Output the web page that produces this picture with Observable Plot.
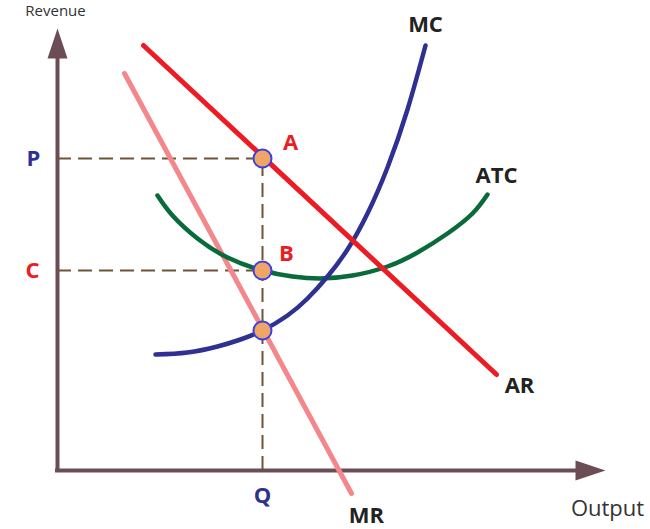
<!DOCTYPE html>
<html>
<head>
<meta charset="utf-8">
<script src="https://cdn.jsdelivr.net/npm/d3@7"></script>
<script src="https://cdn.jsdelivr.net/npm/@observablehq/plot@0.6"></script>
<style>
  body { margin: 0; background: white; }
  #chart svg { overflow: hidden; display: block; }
</style>
</head>
<body>
<div id="chart"></div>
<script>
// Values (output on x, revenue/cost on y; origin at the axes' corner)
const qOutput = 205;      // Q
const pPrice = 312;       // P
const cCost = 200;        // C
const mcAtQ = 140;        // MC = MR at Q

const arLine = [[86, 425], [439, 96]];
const mrLine = [[67, 397], [294, -23]];
const mcCurve = [[98,116],[130,118],[160,124],[183,131],[205,140],[230,155],[250,172],[270,194],[290,221],[310,257],[330,303],[350,361],[368,425]];
const atcCurve = [[100,275],[115,255],[140,232],[170,213],[205,200],[235,194],[263,192],[295,195],[330,204],[360,218],[390,237],[415,257],[430,276]];

const axisYTop = 442;     // arrow tip of the revenue axis
const axisXEnd = 548;     // arrow tip of the output axis

const labelText = ["P", "C", "Q", "A", "B", "MC", "ATC", "AR", "MR"];
const labelX = [-24, -25, 205, 233, 229, 368, 439, 462, 309];
const labelY = [312, 200, -25, 328, 217, 446, 295, 85, -45];
const labelColor = ["#2e3192", "#ed1c24", "#2e3192", "#ed1c24", "#ed1c24", "#222", "#222", "#222", "#222"];

const toPts = a => a.map(([x, y]) => ({x, y}));
const labels = labelText.map((t, i) => ({t, x: labelX[i], y: labelY[i], c: labelColor[i]}));
const points = [{x: qOutput, y: pPrice}, {x: qOutput, y: cCost}, {x: qOutput, y: mcAtQ}];

const headLen = 30, headHalf = 10;
const arrowHead = {
  draw(ctx) {
    ctx.moveTo(0, -headLen);
    ctx.lineTo(headHalf, 0);
    ctx.lineTo(-headHalf, 0);
    ctx.closePath();
  }
};
const axisColor = "#6b4e55";
const dashColor = "#6f5438";
const font = "Open Sans, Liberation Sans, sans-serif";

const chart = Plot.plot({
  width: 650,
  height: 529,
  margin: 0,
  style: {background: "white", fontFamily: font},
  x: {domain: [-57, 593], range: [0, 650], axis: null},
  y: {domain: [-59, 470], range: [529, 0], axis: null},
  marks: [
    // dashed guides
    Plot.ruleY([pPrice, cCost], {x1: 0, x2: qOutput, stroke: dashColor, strokeWidth: 2, strokeDasharray: "14,7"}),
    Plot.ruleX([qOutput], {y1: 0, y2: pPrice, stroke: dashColor, strokeWidth: 2, strokeDasharray: "14,7"}),
    // axes
    Plot.ruleX([0], {y1: 0, y2: axisYTop - headLen + 2, stroke: axisColor, strokeWidth: 4}),
    Plot.ruleY([0], {x1: -2, x2: axisXEnd - headLen + 2, stroke: axisColor, strokeWidth: 4}),
    Plot.dot([{x: 0, y: axisYTop - headLen}], {x: "x", y: "y", symbol: arrowHead, fill: axisColor, stroke: "none"}),
    Plot.dot([{x: axisXEnd - headLen, y: 0}], {x: "x", y: "y", symbol: arrowHead, fill: axisColor, stroke: "none", rotate: 90}),
    // curves
    Plot.line(toPts(mrLine), {x: "x", y: "y", stroke: "#f4878c", strokeWidth: 5}),
    Plot.line(toPts(atcCurve), {x: "x", y: "y", stroke: "#0a6b3a", strokeWidth: 4.5, curve: "natural"}),
    Plot.line(toPts(mcCurve), {x: "x", y: "y", stroke: "#2e3192", strokeWidth: 4.5, curve: "natural"}),
    Plot.line(toPts(arLine), {x: "x", y: "y", stroke: "#ed1c24", strokeWidth: 5}),
    // key points
    Plot.dot(points, {x: "x", y: "y", r: 9, fill: "#efa565", stroke: "#3a40e0", strokeWidth: 2}),
    // labels
    Plot.text(labels, {x: "x", y: "y", text: "t", fill: "c", fontSize: 22, fontWeight: "bold", fontFamily: font}),
    Plot.text(["Output"], {x: 550, y: -38, text: d => d, fill: "#333", fontSize: 22, fontFamily: font}),
    Plot.text(["Revenue"], {x: -2, y: 455, text: d => d, fill: "#333", fontSize: 15, fontFamily: font, lineAnchor: "bottom"})
  ]
});
document.getElementById("chart").appendChild(chart);
</script>
</body>
</html>
